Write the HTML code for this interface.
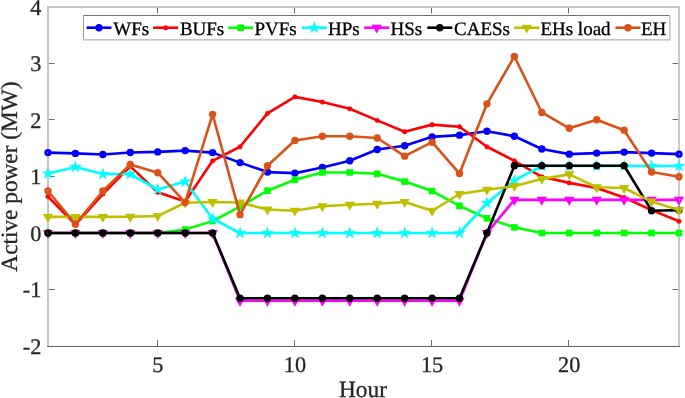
<!DOCTYPE html>
<html><head><meta charset="utf-8"><style>
html,body{margin:0;padding:0;background:#fff;}
svg{display:block;will-change:transform;}
text{text-rendering:geometricPrecision;font-family:"Liberation Serif",serif;fill:#262626;stroke:#262626;stroke-width:0.3px;}
.lg{font-size:19px;fill:#000;stroke:#000;}
.tk{font-size:22.3px;}
.lb{font-size:23.3px;}
</style></head><body>
<svg width="685" height="398" viewBox="0 0 685 398">
<defs><clipPath id="cp"><rect x="48" y="7" width="631" height="339"/></clipPath></defs>
<rect x="47" y="6" width="633" height="341" fill="#fff"/>
<path d="M157.5 346V340M157.5 7V13.5M294.5 346V340M294.5 7V13.5M431.5 346V340M431.5 7V13.5M568.5 346V340M568.5 7V13.5M48 289.5H54.5M679 289.5H672.5M48 232.5H54.5M679 232.5H672.5M48 176.5H54.5M679 176.5H672.5M48 119.5H54.5M679 119.5H672.5M48 63.5H54.5M679 63.5H672.5" stroke="#6a6a6a" stroke-width="1" fill="none"/>
<rect x="47" y="6" width="633" height="2" fill="#cacaca"/>
<rect x="47" y="6" width="2" height="341" fill="#c6c6c6"/>
<rect x="678" y="6" width="2" height="341" fill="#cacaca"/>
<rect x="47" y="346" width="633" height="1" fill="#626262"/>
<g>
<polyline points="48,152.6 75.43,153.39 102.87,154.47 130.3,152.43 157.74,151.92 185.17,150.62 212.61,152.6 240.04,162.6 267.48,172.09 294.91,173.11 322.35,167.52 349.78,160.79 377.22,149.49 404.65,145.71 432.09,136.84 459.52,135.14 486.96,131.3 514.39,136.22 541.83,148.98 569.26,154.13 596.7,153.11 624.13,152.09 651.57,153.11 679,154.13" fill="none" stroke="#0000ff" stroke-width="2.6" stroke-linejoin="round"/>
<circle cx="48" cy="152.6" r="2.25" fill="none" stroke="#0000ff" stroke-width="2.9"/>
<circle cx="75.43" cy="153.39" r="3.7" fill="#0000ff"/>
<circle cx="102.87" cy="154.47" r="3.7" fill="#0000ff"/>
<circle cx="130.3" cy="152.43" r="3.7" fill="#0000ff"/>
<circle cx="157.74" cy="151.92" r="3.7" fill="#0000ff"/>
<circle cx="185.17" cy="150.62" r="3.7" fill="#0000ff"/>
<circle cx="212.61" cy="152.6" r="3.7" fill="#0000ff"/>
<circle cx="240.04" cy="162.6" r="3.7" fill="#0000ff"/>
<circle cx="267.48" cy="172.09" r="3.7" fill="#0000ff"/>
<circle cx="294.91" cy="173.11" r="3.7" fill="#0000ff"/>
<circle cx="322.35" cy="167.52" r="3.7" fill="#0000ff"/>
<circle cx="349.78" cy="160.79" r="3.7" fill="#0000ff"/>
<circle cx="377.22" cy="149.49" r="3.7" fill="#0000ff"/>
<circle cx="404.65" cy="145.71" r="3.7" fill="#0000ff"/>
<circle cx="432.09" cy="136.84" r="3.7" fill="#0000ff"/>
<circle cx="459.52" cy="135.14" r="3.7" fill="#0000ff"/>
<circle cx="486.96" cy="131.3" r="3.7" fill="#0000ff"/>
<circle cx="514.39" cy="136.22" r="3.7" fill="#0000ff"/>
<circle cx="541.83" cy="148.98" r="3.7" fill="#0000ff"/>
<circle cx="569.26" cy="154.13" r="3.7" fill="#0000ff"/>
<circle cx="596.7" cy="153.11" r="3.7" fill="#0000ff"/>
<circle cx="624.13" cy="152.09" r="3.7" fill="#0000ff"/>
<circle cx="651.57" cy="153.11" r="3.7" fill="#0000ff"/>
<circle cx="679" cy="154.13" r="2.25" fill="none" stroke="#0000ff" stroke-width="2.9"/>
<polyline points="48,196.61 75.43,224.53 102.87,194.01 130.3,166.33 157.74,192.32 185.17,201.59 212.61,160.79 240.04,146.78 267.48,113.39 294.91,96.89 322.35,102.09 349.78,108.81 377.22,120.4 404.65,131.7 432.09,124.63 459.52,126.72 486.96,146.78 514.39,160.79 541.83,176.78 569.26,182.88 596.7,188.03 624.13,197.52 651.57,210.12 679,221.3" fill="none" stroke="#ff0000" stroke-width="2.6" stroke-linejoin="round"/>
<circle cx="48" cy="196.61" r="1.9" fill="#ff0000"/><path d="M45.4 196.61L50.6 196.61M46.16 194.78L49.84 198.45M48 194.01L48 199.21M49.84 194.78L46.16 198.45" stroke="#ff0000" stroke-width="1.2"/>
<circle cx="75.43" cy="224.53" r="1.9" fill="#ff0000"/><path d="M72.83 224.53L78.03 224.53M73.6 222.69L77.27 226.36M75.43 221.93L75.43 227.12M77.27 222.69L73.6 226.36" stroke="#ff0000" stroke-width="1.2"/>
<circle cx="102.87" cy="194.01" r="1.9" fill="#ff0000"/><path d="M100.27 194.01L105.47 194.01M101.03 192.18L104.71 195.85M102.87 191.41L102.87 196.61M104.71 192.18L101.03 195.85" stroke="#ff0000" stroke-width="1.2"/>
<circle cx="130.3" cy="166.33" r="1.9" fill="#ff0000"/><path d="M127.7 166.33L132.9 166.33M128.47 164.49L132.14 168.17M130.3 163.73L130.3 168.93M132.14 164.49L128.47 168.17" stroke="#ff0000" stroke-width="1.2"/>
<circle cx="157.74" cy="192.32" r="1.9" fill="#ff0000"/><path d="M155.14 192.32L160.34 192.32M155.9 190.48L159.58 194.16M157.74 189.72L157.74 194.92M159.58 190.48L155.9 194.16" stroke="#ff0000" stroke-width="1.2"/>
<circle cx="185.17" cy="201.59" r="1.9" fill="#ff0000"/><path d="M182.57 201.59L187.77 201.59M183.34 199.75L187.01 203.42M185.17 198.99L185.17 204.19M187.01 199.75L183.34 203.42" stroke="#ff0000" stroke-width="1.2"/>
<circle cx="212.61" cy="160.79" r="1.9" fill="#ff0000"/><path d="M210.01 160.79L215.21 160.79M210.77 158.95L214.45 162.63M212.61 158.19L212.61 163.39M214.45 158.95L210.77 162.63" stroke="#ff0000" stroke-width="1.2"/>
<circle cx="240.04" cy="146.78" r="1.9" fill="#ff0000"/><path d="M237.44 146.78L242.64 146.78M238.21 144.94L241.88 148.62M240.04 144.18L240.04 149.38M241.88 144.94L238.21 148.62" stroke="#ff0000" stroke-width="1.2"/>
<circle cx="267.48" cy="113.39" r="1.9" fill="#ff0000"/><path d="M264.88 113.39L270.08 113.39M265.64 111.55L269.32 115.23M267.48 110.79L267.48 115.99M269.32 111.55L265.64 115.23" stroke="#ff0000" stroke-width="1.2"/>
<circle cx="294.91" cy="96.89" r="1.9" fill="#ff0000"/><path d="M292.31 96.89L297.51 96.89M293.07 95.05L296.75 98.73M294.91 94.29L294.91 99.49M296.75 95.05L293.07 98.73" stroke="#ff0000" stroke-width="1.2"/>
<circle cx="322.35" cy="102.09" r="1.9" fill="#ff0000"/><path d="M319.75 102.09L324.95 102.09M320.51 100.25L324.19 103.93M322.35 99.49L322.35 104.69M324.19 100.25L320.51 103.93" stroke="#ff0000" stroke-width="1.2"/>
<circle cx="349.78" cy="108.81" r="1.9" fill="#ff0000"/><path d="M347.18 108.81L352.38 108.81M347.94 106.97L351.62 110.65M349.78 106.21L349.78 111.41M351.62 106.97L347.94 110.65" stroke="#ff0000" stroke-width="1.2"/>
<circle cx="377.22" cy="120.4" r="1.9" fill="#ff0000"/><path d="M374.62 120.4L379.82 120.4M375.38 118.56L379.06 122.23M377.22 117.8L377.22 123M379.06 118.56L375.38 122.23" stroke="#ff0000" stroke-width="1.2"/>
<circle cx="404.65" cy="131.7" r="1.9" fill="#ff0000"/><path d="M402.05 131.7L407.25 131.7M402.81 129.86L406.49 133.53M404.65 129.1L404.65 134.3M406.49 129.86L402.81 133.53" stroke="#ff0000" stroke-width="1.2"/>
<circle cx="432.09" cy="124.63" r="1.9" fill="#ff0000"/><path d="M429.49 124.63L434.69 124.63M430.25 122.79L433.93 126.47M432.09 122.03L432.09 127.23M433.93 122.79L430.25 126.47" stroke="#ff0000" stroke-width="1.2"/>
<circle cx="459.52" cy="126.72" r="1.9" fill="#ff0000"/><path d="M456.92 126.72L462.12 126.72M457.68 124.89L461.36 128.56M459.52 124.12L459.52 129.32M461.36 124.89L457.68 128.56" stroke="#ff0000" stroke-width="1.2"/>
<circle cx="486.96" cy="146.78" r="1.9" fill="#ff0000"/><path d="M484.36 146.78L489.56 146.78M485.12 144.94L488.79 148.62M486.96 144.18L486.96 149.38M488.79 144.94L485.12 148.62" stroke="#ff0000" stroke-width="1.2"/>
<circle cx="514.39" cy="160.79" r="1.9" fill="#ff0000"/><path d="M511.79 160.79L516.99 160.79M512.55 158.95L516.23 162.63M514.39 158.19L514.39 163.39M516.23 158.95L512.55 162.63" stroke="#ff0000" stroke-width="1.2"/>
<circle cx="541.83" cy="176.78" r="1.9" fill="#ff0000"/><path d="M539.23 176.78L544.43 176.78M539.99 174.94L543.66 178.62M541.83 174.18L541.83 179.38M543.66 174.94L539.99 178.62" stroke="#ff0000" stroke-width="1.2"/>
<circle cx="569.26" cy="182.88" r="1.9" fill="#ff0000"/><path d="M566.66 182.88L571.86 182.88M567.42 181.05L571.1 184.72M569.26 180.28L569.26 185.48M571.1 181.05L567.42 184.72" stroke="#ff0000" stroke-width="1.2"/>
<circle cx="596.7" cy="188.03" r="1.9" fill="#ff0000"/><path d="M594.1 188.03L599.3 188.03M594.86 186.19L598.53 189.86M596.7 185.43L596.7 190.63M598.53 186.19L594.86 189.86" stroke="#ff0000" stroke-width="1.2"/>
<circle cx="624.13" cy="197.52" r="1.9" fill="#ff0000"/><path d="M621.53 197.52L626.73 197.52M622.29 195.68L625.97 199.36M624.13 194.92L624.13 200.12M625.97 195.68L622.29 199.36" stroke="#ff0000" stroke-width="1.2"/>
<circle cx="651.57" cy="210.12" r="1.9" fill="#ff0000"/><path d="M648.97 210.12L654.17 210.12M649.73 208.28L653.4 211.96M651.57 207.52L651.57 212.72M653.4 208.28L649.73 211.96" stroke="#ff0000" stroke-width="1.2"/>
<circle cx="679" cy="221.3" r="1.9" fill="#ff0000"/><path d="M676.4 221.3L681.6 221.3M677.16 219.47L680.84 223.14M679 218.7L679 223.9M680.84 219.47L677.16 223.14" stroke="#ff0000" stroke-width="1.2"/>
<polyline points="48,233 75.43,233 102.87,233 130.3,233 157.74,233 185.17,229.61 212.61,221.13 240.04,206.61 267.48,190.68 294.91,179.78 322.35,172.43 349.78,172.43 377.22,173.79 404.65,181.59 432.09,191.08 459.52,205.88 486.96,218.31 514.39,227.35 541.83,233 569.26,233 596.7,233 624.13,233 651.57,233 679,233" fill="none" stroke="#00ff00" stroke-width="2.6" stroke-linejoin="round"/>
<rect x="44.7" y="229.7" width="6.6" height="6.6" fill="#00ff00"/>
<rect x="72.13" y="229.7" width="6.6" height="6.6" fill="#00ff00"/>
<rect x="99.57" y="229.7" width="6.6" height="6.6" fill="#00ff00"/>
<rect x="127" y="229.7" width="6.6" height="6.6" fill="#00ff00"/>
<rect x="154.44" y="229.7" width="6.6" height="6.6" fill="#00ff00"/>
<rect x="181.87" y="226.31" width="6.6" height="6.6" fill="#00ff00"/>
<rect x="209.31" y="217.83" width="6.6" height="6.6" fill="#00ff00"/>
<rect x="236.74" y="203.31" width="6.6" height="6.6" fill="#00ff00"/>
<rect x="264.18" y="187.38" width="6.6" height="6.6" fill="#00ff00"/>
<rect x="291.61" y="176.48" width="6.6" height="6.6" fill="#00ff00"/>
<rect x="319.05" y="169.13" width="6.6" height="6.6" fill="#00ff00"/>
<rect x="346.48" y="169.13" width="6.6" height="6.6" fill="#00ff00"/>
<rect x="373.92" y="170.49" width="6.6" height="6.6" fill="#00ff00"/>
<rect x="401.35" y="178.28" width="6.6" height="6.6" fill="#00ff00"/>
<rect x="428.79" y="187.78" width="6.6" height="6.6" fill="#00ff00"/>
<rect x="456.22" y="202.58" width="6.6" height="6.6" fill="#00ff00"/>
<rect x="483.66" y="215.01" width="6.6" height="6.6" fill="#00ff00"/>
<rect x="511.09" y="224.05" width="6.6" height="6.6" fill="#00ff00"/>
<rect x="538.53" y="229.7" width="6.6" height="6.6" fill="#00ff00"/>
<rect x="565.96" y="229.7" width="6.6" height="6.6" fill="#00ff00"/>
<rect x="593.4" y="229.7" width="6.6" height="6.6" fill="#00ff00"/>
<rect x="620.83" y="229.7" width="6.6" height="6.6" fill="#00ff00"/>
<rect x="648.27" y="229.7" width="6.6" height="6.6" fill="#00ff00"/>
<rect x="676.9" y="230.9" width="4.2" height="4.2" fill="none" stroke="#00ff00" stroke-width="2.4"/>
<polyline points="48,173.51 75.43,167.01 102.87,174.01 130.3,174.01 157.74,189.5 185.17,181.59 212.61,218.71 240.04,233 267.48,233 294.91,233 322.35,233 349.78,233 377.22,233 404.65,233 432.09,233 459.52,233 486.96,203.17 514.39,180.45 541.83,165.99 569.26,165.99 596.7,165.99 624.13,165.99 651.57,165.99 679,165.99" fill="none" stroke="#00ffff" stroke-width="2.6" stroke-linejoin="round"/>
<polygon points="48,166.81 49.5,171.43 54.37,171.44 50.43,174.3 51.94,178.93 48,176.06 44.06,178.93 45.57,174.3 41.63,171.44 46.5,171.43" fill="#00ffff"/>
<polygon points="75.43,160.31 76.94,164.94 81.81,164.94 77.87,167.8 79.37,172.43 75.43,169.57 71.5,172.43 73,167.8 69.06,164.94 73.93,164.94" fill="#00ffff"/>
<polygon points="102.87,167.31 104.37,171.94 109.24,171.94 105.3,174.8 106.81,179.43 102.87,176.57 98.93,179.43 100.44,174.8 96.5,171.94 101.37,171.94" fill="#00ffff"/>
<polygon points="130.3,167.31 131.81,171.94 136.68,171.94 132.74,174.8 134.24,179.43 130.3,176.57 126.37,179.43 127.87,174.8 123.93,171.94 128.8,171.94" fill="#00ffff"/>
<polygon points="157.74,182.8 159.24,187.42 164.11,187.42 160.17,190.29 161.68,194.92 157.74,192.05 153.8,194.92 155.3,190.29 151.37,187.42 156.23,187.42" fill="#00ffff"/>
<polygon points="185.17,174.89 186.68,179.51 191.55,179.51 187.61,182.38 189.11,187.01 185.17,184.14 181.24,187.01 182.74,182.38 178.8,179.51 183.67,179.51" fill="#00ffff"/>
<polygon points="212.61,212.01 214.11,216.63 218.98,216.64 215.04,219.5 216.55,224.13 212.61,221.26 208.67,224.13 210.17,219.5 206.24,216.64 211.1,216.63" fill="#00ffff"/>
<polygon points="240.04,226.3 241.55,230.93 246.42,230.93 242.48,233.79 243.98,238.42 240.04,235.56 236.11,238.42 237.61,233.79 233.67,230.93 238.54,230.93" fill="#00ffff"/>
<polygon points="267.48,226.3 268.98,230.93 273.85,230.93 269.91,233.79 271.42,238.42 267.48,235.56 263.54,238.42 265.04,233.79 261.11,230.93 265.97,230.93" fill="#00ffff"/>
<polygon points="294.91,226.3 296.42,230.93 301.29,230.93 297.35,233.79 298.85,238.42 294.91,235.56 290.97,238.42 292.48,233.79 288.54,230.93 293.41,230.93" fill="#00ffff"/>
<polygon points="322.35,226.3 323.85,230.93 328.72,230.93 324.78,233.79 326.29,238.42 322.35,235.56 318.41,238.42 319.91,233.79 315.98,230.93 320.84,230.93" fill="#00ffff"/>
<polygon points="349.78,226.3 351.29,230.93 356.15,230.93 352.22,233.79 353.72,238.42 349.78,235.56 345.84,238.42 347.35,233.79 343.41,230.93 348.28,230.93" fill="#00ffff"/>
<polygon points="377.22,226.3 378.72,230.93 383.59,230.93 379.65,233.79 381.16,238.42 377.22,235.56 373.28,238.42 374.78,233.79 370.85,230.93 375.71,230.93" fill="#00ffff"/>
<polygon points="404.65,226.3 406.16,230.93 411.02,230.93 407.09,233.79 408.59,238.42 404.65,235.56 400.71,238.42 402.22,233.79 398.28,230.93 403.15,230.93" fill="#00ffff"/>
<polygon points="432.09,226.3 433.59,230.93 438.46,230.93 434.52,233.79 436.03,238.42 432.09,235.56 428.15,238.42 429.65,233.79 425.71,230.93 430.58,230.93" fill="#00ffff"/>
<polygon points="459.52,226.3 461.03,230.93 465.89,230.93 461.96,233.79 463.46,238.42 459.52,235.56 455.58,238.42 457.09,233.79 453.15,230.93 458.02,230.93" fill="#00ffff"/>
<polygon points="486.96,196.47 488.46,201.1 493.33,201.1 489.39,203.96 490.89,208.59 486.96,205.73 483.02,208.59 484.52,203.96 480.58,201.1 485.45,201.1" fill="#00ffff"/>
<polygon points="514.39,173.75 515.9,178.38 520.76,178.38 516.83,181.25 518.33,185.88 514.39,183.01 510.45,185.88 511.96,181.25 508.02,178.38 512.89,178.38" fill="#00ffff"/>
<polygon points="541.83,159.29 543.33,163.92 548.2,163.92 544.26,166.78 545.76,171.41 541.83,168.55 537.89,171.41 539.39,166.78 535.45,163.92 540.32,163.92" fill="#00ffff"/>
<polygon points="569.26,159.29 570.77,163.92 575.63,163.92 571.7,166.78 573.2,171.41 569.26,168.55 565.32,171.41 566.83,166.78 562.89,163.92 567.76,163.92" fill="#00ffff"/>
<polygon points="596.7,159.29 598.2,163.92 603.07,163.92 599.13,166.78 600.63,171.41 596.7,168.55 592.76,171.41 594.26,166.78 590.32,163.92 595.19,163.92" fill="#00ffff"/>
<polygon points="624.13,159.29 625.63,163.92 630.5,163.92 626.56,166.78 628.07,171.41 624.13,168.55 620.19,171.41 621.7,166.78 617.76,163.92 622.63,163.92" fill="#00ffff"/>
<polygon points="651.57,159.29 653.07,163.92 657.94,163.92 654,166.78 655.5,171.41 651.57,168.55 647.63,171.41 649.13,166.78 645.19,163.92 650.06,163.92" fill="#00ffff"/>
<polygon points="679,159.29 680.5,163.92 685.37,163.92 681.43,166.78 682.94,171.41 679,168.55 675.06,171.41 676.57,166.78 672.63,163.92 677.5,163.92" fill="#00ffff"/>
<polyline points="48,233 75.43,233 102.87,233 130.3,233 157.74,233 185.17,233 212.61,233 240.04,300.8 267.48,300.8 294.91,300.8 322.35,300.8 349.78,300.8 377.22,300.8 404.65,300.8 432.09,300.8 459.52,300.8 486.96,233 514.39,199.83 541.83,199.83 569.26,199.83 596.7,199.83 624.13,199.83 651.57,199.83 679,199.83" fill="none" stroke="#ff00ff" stroke-width="2.6" stroke-linejoin="round"/>
<path d="M42.85 230H53.15L48 238.9Z" fill="#ff00ff"/>
<path d="M70.28 230H80.58L75.43 238.9Z" fill="#ff00ff"/>
<path d="M97.72 230H108.02L102.87 238.9Z" fill="#ff00ff"/>
<path d="M125.15 230H135.45L130.3 238.9Z" fill="#ff00ff"/>
<path d="M152.59 230H162.89L157.74 238.9Z" fill="#ff00ff"/>
<path d="M180.02 230H190.32L185.17 238.9Z" fill="#ff00ff"/>
<path d="M207.46 230H217.76L212.61 238.9Z" fill="#ff00ff"/>
<path d="M234.89 297.8H245.19L240.04 306.7Z" fill="#ff00ff"/>
<path d="M262.33 297.8H272.63L267.48 306.7Z" fill="#ff00ff"/>
<path d="M289.76 297.8H300.06L294.91 306.7Z" fill="#ff00ff"/>
<path d="M317.2 297.8H327.5L322.35 306.7Z" fill="#ff00ff"/>
<path d="M344.63 297.8H354.93L349.78 306.7Z" fill="#ff00ff"/>
<path d="M372.07 297.8H382.37L377.22 306.7Z" fill="#ff00ff"/>
<path d="M399.5 297.8H409.8L404.65 306.7Z" fill="#ff00ff"/>
<path d="M426.94 297.8H437.24L432.09 306.7Z" fill="#ff00ff"/>
<path d="M454.37 297.8H464.67L459.52 306.7Z" fill="#ff00ff"/>
<path d="M481.81 230H492.11L486.96 238.9Z" fill="#ff00ff"/>
<path d="M509.24 196.83H519.54L514.39 205.73Z" fill="#ff00ff"/>
<path d="M536.68 196.83H546.98L541.83 205.73Z" fill="#ff00ff"/>
<path d="M564.11 196.83H574.41L569.26 205.73Z" fill="#ff00ff"/>
<path d="M591.55 196.83H601.85L596.7 205.73Z" fill="#ff00ff"/>
<path d="M618.98 196.83H629.28L624.13 205.73Z" fill="#ff00ff"/>
<path d="M646.42 196.83H656.72L651.57 205.73Z" fill="#ff00ff"/>
<path d="M675.76 197.93L682.24 197.93L679 203.54Z" fill="none" stroke="#ff00ff" stroke-width="2.2" stroke-linejoin="miter" stroke-miterlimit="10"/>
<polyline points="48,233 75.43,233 102.87,233 130.3,233 157.74,233 185.17,233 212.61,233 240.04,298.26 267.48,298.26 294.91,298.26 322.35,298.26 349.78,298.26 377.22,298.26 404.65,298.26 432.09,298.26 459.52,298.26 486.96,233 514.39,165.76 541.83,165.76 569.26,165.76 596.7,165.76 624.13,165.76 651.57,210.68 679,210.12" fill="none" stroke="#000000" stroke-width="2.6" stroke-linejoin="round"/>
<circle cx="48" cy="233" r="2.25" fill="none" stroke="#000000" stroke-width="2.9"/>
<circle cx="75.43" cy="233" r="3.7" fill="#000000"/>
<circle cx="102.87" cy="233" r="3.7" fill="#000000"/>
<circle cx="130.3" cy="233" r="3.7" fill="#000000"/>
<circle cx="157.74" cy="233" r="3.7" fill="#000000"/>
<circle cx="185.17" cy="233" r="3.7" fill="#000000"/>
<circle cx="212.61" cy="233" r="3.7" fill="#000000"/>
<circle cx="240.04" cy="298.26" r="3.7" fill="#000000"/>
<circle cx="267.48" cy="298.26" r="3.7" fill="#000000"/>
<circle cx="294.91" cy="298.26" r="3.7" fill="#000000"/>
<circle cx="322.35" cy="298.26" r="3.7" fill="#000000"/>
<circle cx="349.78" cy="298.26" r="3.7" fill="#000000"/>
<circle cx="377.22" cy="298.26" r="3.7" fill="#000000"/>
<circle cx="404.65" cy="298.26" r="3.7" fill="#000000"/>
<circle cx="432.09" cy="298.26" r="3.7" fill="#000000"/>
<circle cx="459.52" cy="298.26" r="3.7" fill="#000000"/>
<circle cx="486.96" cy="233" r="3.7" fill="#000000"/>
<circle cx="514.39" cy="165.76" r="3.7" fill="#000000"/>
<circle cx="541.83" cy="165.76" r="3.7" fill="#000000"/>
<circle cx="569.26" cy="165.76" r="3.7" fill="#000000"/>
<circle cx="596.7" cy="165.76" r="3.7" fill="#000000"/>
<circle cx="624.13" cy="165.76" r="3.7" fill="#000000"/>
<circle cx="651.57" cy="210.68" r="3.7" fill="#000000"/>
<circle cx="679" cy="210.12" r="2.25" fill="none" stroke="#000000" stroke-width="2.9"/>
<polyline points="48,216.9 75.43,216.9 102.87,216.9 130.3,216.73 157.74,216.05 185.17,202.72 212.61,202.04 240.04,202.49 267.48,209.5 294.91,210.68 322.35,206.22 349.78,204.81 377.22,203.73 404.65,201.98 432.09,210.8 459.52,194.01 486.96,189.72 514.39,186.11 541.83,178.93 569.26,174.35 596.7,187.29 624.13,188.03 651.57,201.59 679,210.12" fill="none" stroke="#bfbf00" stroke-width="2.6" stroke-linejoin="round"/>
<path d="M42.85 213.9H53.15L48 222.8Z" fill="#bfbf00"/>
<path d="M70.28 213.9H80.58L75.43 222.8Z" fill="#bfbf00"/>
<path d="M97.72 213.9H108.02L102.87 222.8Z" fill="#bfbf00"/>
<path d="M125.15 213.73H135.45L130.3 222.63Z" fill="#bfbf00"/>
<path d="M152.59 213.05H162.89L157.74 221.95Z" fill="#bfbf00"/>
<path d="M180.02 199.72H190.32L185.17 208.62Z" fill="#bfbf00"/>
<path d="M207.46 199.04H217.76L212.61 207.94Z" fill="#bfbf00"/>
<path d="M234.89 199.49H245.19L240.04 208.39Z" fill="#bfbf00"/>
<path d="M262.33 206.5H272.63L267.48 215.4Z" fill="#bfbf00"/>
<path d="M289.76 207.68H300.06L294.91 216.58Z" fill="#bfbf00"/>
<path d="M317.2 203.22H327.5L322.35 212.12Z" fill="#bfbf00"/>
<path d="M344.63 201.81H354.93L349.78 210.71Z" fill="#bfbf00"/>
<path d="M372.07 200.73H382.37L377.22 209.63Z" fill="#bfbf00"/>
<path d="M399.5 198.98H409.8L404.65 207.88Z" fill="#bfbf00"/>
<path d="M426.94 207.8H437.24L432.09 216.7Z" fill="#bfbf00"/>
<path d="M454.37 191.01H464.67L459.52 199.91Z" fill="#bfbf00"/>
<path d="M481.81 186.72H492.11L486.96 195.62Z" fill="#bfbf00"/>
<path d="M509.24 183.11H519.54L514.39 192.01Z" fill="#bfbf00"/>
<path d="M536.68 175.93H546.98L541.83 184.83Z" fill="#bfbf00"/>
<path d="M564.11 171.35H574.41L569.26 180.25Z" fill="#bfbf00"/>
<path d="M591.55 184.29H601.85L596.7 193.19Z" fill="#bfbf00"/>
<path d="M618.98 185.03H629.28L624.13 193.93Z" fill="#bfbf00"/>
<path d="M646.42 198.59H656.72L651.57 207.49Z" fill="#bfbf00"/>
<path d="M675.76 208.22L682.24 208.22L679 213.82Z" fill="none" stroke="#bfbf00" stroke-width="2.2" stroke-linejoin="miter" stroke-miterlimit="10"/>
<polyline points="48,191.02 75.43,224.19 102.87,191.02 130.3,164.41 157.74,172.71 185.17,202.43 212.61,114.35 240.04,214.64 267.48,165.76 294.91,140.51 322.35,136.22 349.78,136.22 377.22,138.02 404.65,156.16 432.09,142.2 459.52,173.56 486.96,103.84 514.39,56.49 541.83,112.49 569.26,128.31 596.7,119.72 624.13,130.17 651.57,172.09 679,176.78" fill="none" stroke="#d95319" stroke-width="2.6" stroke-linejoin="round"/>
<circle cx="48" cy="191.02" r="2.25" fill="none" stroke="#d95319" stroke-width="2.9"/>
<circle cx="75.43" cy="224.19" r="3.7" fill="#d95319"/>
<circle cx="102.87" cy="191.02" r="3.7" fill="#d95319"/>
<circle cx="130.3" cy="164.41" r="3.7" fill="#d95319"/>
<circle cx="157.74" cy="172.71" r="3.7" fill="#d95319"/>
<circle cx="185.17" cy="202.43" r="3.7" fill="#d95319"/>
<circle cx="212.61" cy="114.35" r="3.7" fill="#d95319"/>
<circle cx="240.04" cy="214.64" r="3.7" fill="#d95319"/>
<circle cx="267.48" cy="165.76" r="3.7" fill="#d95319"/>
<circle cx="294.91" cy="140.51" r="3.7" fill="#d95319"/>
<circle cx="322.35" cy="136.22" r="3.7" fill="#d95319"/>
<circle cx="349.78" cy="136.22" r="3.7" fill="#d95319"/>
<circle cx="377.22" cy="138.02" r="3.7" fill="#d95319"/>
<circle cx="404.65" cy="156.16" r="3.7" fill="#d95319"/>
<circle cx="432.09" cy="142.2" r="3.7" fill="#d95319"/>
<circle cx="459.52" cy="173.56" r="3.7" fill="#d95319"/>
<circle cx="486.96" cy="103.84" r="3.7" fill="#d95319"/>
<circle cx="514.39" cy="56.49" r="3.7" fill="#d95319"/>
<circle cx="541.83" cy="112.49" r="3.7" fill="#d95319"/>
<circle cx="569.26" cy="128.31" r="3.7" fill="#d95319"/>
<circle cx="596.7" cy="119.72" r="3.7" fill="#d95319"/>
<circle cx="624.13" cy="130.17" r="3.7" fill="#d95319"/>
<circle cx="651.57" cy="172.09" r="3.7" fill="#d95319"/>
<circle cx="679" cy="176.78" r="2.25" fill="none" stroke="#d95319" stroke-width="2.9"/>
</g>
<rect x="83" y="15" width="587" height="26" fill="#fff"/>
<rect x="83" y="15" width="587" height="1" fill="#707070"/>
<rect x="83" y="15" width="1" height="25" fill="#999"/>
<rect x="669" y="15" width="1.6" height="25.6" fill="#c4c4c4"/>
<rect x="83" y="39" width="587" height="1.6" fill="#c4c4c4"/>
<path d="M86.5 27.7H111.5" stroke="#0000ff" stroke-width="2.6"/>
<circle cx="99" cy="27.7" r="3.7" fill="#0000ff"/>
<text x="113.3" y="34.6" class="lg">WFs</text>
<path d="M153.1 27.7H178.1" stroke="#ff0000" stroke-width="2.6"/>
<circle cx="165.6" cy="27.7" r="1.9" fill="#ff0000"/><path d="M163 27.7L168.2 27.7M163.76 25.86L167.44 29.54M165.6 25.1L165.6 30.3M167.44 25.86L163.76 29.54" stroke="#ff0000" stroke-width="1.2"/>
<text x="179.9" y="34.6" class="lg">BUFs</text>
<path d="M228.2 27.7H253.2" stroke="#00ff00" stroke-width="2.6"/>
<rect x="237.4" y="24.4" width="6.6" height="6.6" fill="#00ff00"/>
<text x="254.4" y="34.6" class="lg">PVFs</text>
<path d="M301.8 27.7H326.8" stroke="#00ffff" stroke-width="2.6"/>
<polygon points="314.3,21 315.8,25.63 320.67,25.63 316.73,28.49 318.24,33.12 314.3,30.26 310.36,33.12 311.87,28.49 307.93,25.63 312.8,25.63" fill="#00ffff"/>
<text x="328" y="34.6" class="lg">HPs</text>
<path d="M364.2 27.7H389.2" stroke="#ff00ff" stroke-width="2.6"/>
<path d="M371.55 24.7H381.85L376.7 33.6Z" fill="#ff00ff"/>
<text x="390.5" y="34.6" class="lg">HSs</text>
<path d="M427.3 27.7H452.3" stroke="#000000" stroke-width="2.6"/>
<circle cx="439.8" cy="27.7" r="3.7" fill="#000000"/>
<text x="454" y="34.6" class="lg">CAESs</text>
<path d="M514.2 27.7H539.2" stroke="#bfbf00" stroke-width="2.6"/>
<path d="M521.55 24.7H531.85L526.7 33.6Z" fill="#bfbf00"/>
<text x="540.4" y="34.6" class="lg">EHs load</text>
<path d="M615.4 27.7H640.4" stroke="#d95319" stroke-width="2.6"/>
<circle cx="627.9" cy="27.7" r="3.7" fill="#d95319"/>
<text x="641" y="34.6" class="lg">EH</text>
<text x="41.3" y="353.5" class="tk" text-anchor="end">-2</text>
<text x="41.3" y="297" class="tk" text-anchor="end">-1</text>
<text x="41.3" y="240.5" class="tk" text-anchor="end">0</text>
<text x="41.3" y="184" class="tk" text-anchor="end">1</text>
<text x="41.3" y="127.5" class="tk" text-anchor="end">2</text>
<text x="41.3" y="71" class="tk" text-anchor="end">3</text>
<text x="41.3" y="14.5" class="tk" text-anchor="end">4</text>
<text x="157.74" y="372" class="tk" text-anchor="middle">5</text>
<text x="294.91" y="372" class="tk" text-anchor="middle">10</text>
<text x="432.09" y="372" class="tk" text-anchor="middle">15</text>
<text x="569.26" y="372" class="tk" text-anchor="middle">20</text>
<text x="363" y="397.4" class="lb" text-anchor="middle">Hour</text>
<text transform="translate(16.6 176.6) rotate(-90)" class="lb" text-anchor="middle">Active power (MW)</text>
</svg>
</body></html>
